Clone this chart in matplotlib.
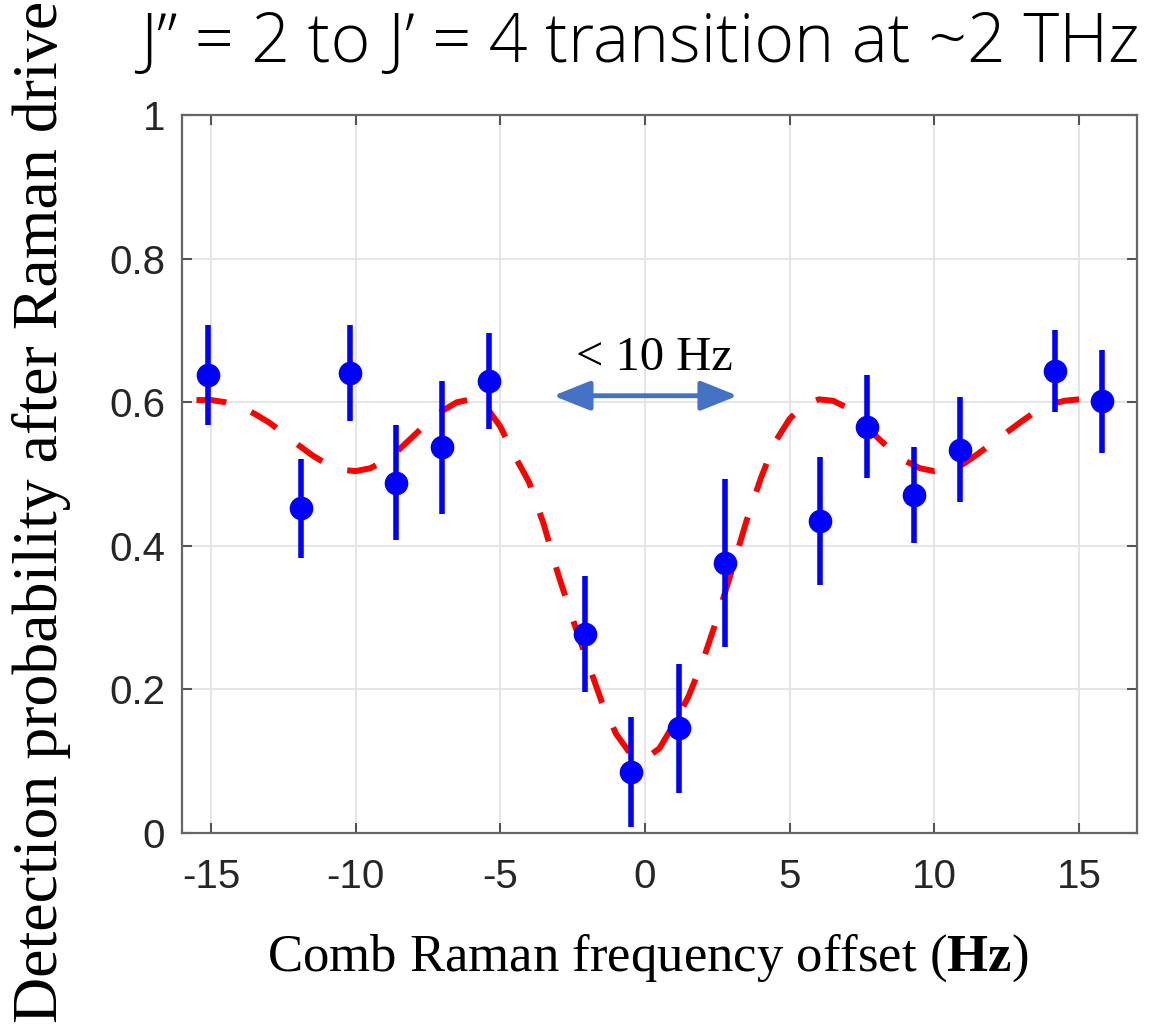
import matplotlib
matplotlib.use("Agg")
import matplotlib.pyplot as plt

# measured points (offset in Hz, detection probability, error)
freq = [-15.1, -11.9, -10.2, -8.6, -7.0, -5.4, -2.07, -0.48, 1.17, 2.76,
        6.03, 7.66, 9.28, 10.9, 14.17, 15.79]
prob = [0.638, 0.452, 0.641, 0.488, 0.537, 0.629, 0.277, 0.085, 0.146, 0.376,
        0.434, 0.566, 0.471, 0.534, 0.643, 0.601]
err = [0.070, 0.069, 0.067, 0.080, 0.093, 0.067, 0.081, 0.076, 0.090, 0.117,
       0.089, 0.072, 0.067, 0.073, 0.057, 0.072]

# fit curve, every 0.5 Hz
fit_x = [-15.5, -15.0, -14.5, -14.0, -13.5, -13.0, -12.5, -12.0, -11.5, -11.0,
         -10.5, -10.0, -9.5, -9.0, -8.5, -8.0, -7.5, -7.0, -6.5, -6.0,
         -5.5, -5.0, -4.5, -4.0, -3.5, -3.0, -2.5, -2.0, -1.5, -1.0,
         -0.5, 0.0, 0.5, 1.0, 1.5, 2.0, 2.5, 3.0, 3.5, 4.0,
         4.5, 5.0, 5.5, 6.0, 6.5, 7.0, 7.5, 8.0, 8.5, 9.0,
         9.5, 10.0, 10.5, 11.0, 11.5, 12.0, 12.5, 13.0, 13.5, 14.0,
         14.5, 15.0]
fit_y = [0.603, 0.603, 0.600, 0.594, 0.584, 0.572, 0.557, 0.541, 0.526, 0.514,
         0.506, 0.504, 0.508, 0.518, 0.534, 0.553, 0.572, 0.588, 0.600, 0.604,
         0.594, 0.566, 0.525, 0.488, 0.430, 0.360, 0.298, 0.240, 0.183, 0.138,
         0.110, 0.103, 0.118, 0.152, 0.190, 0.240, 0.300, 0.366, 0.434, 0.494,
         0.545, 0.577, 0.596, 0.604, 0.602, 0.592, 0.574, 0.552, 0.533, 0.518,
         0.508, 0.504, 0.507, 0.514, 0.528, 0.543, 0.558, 0.573, 0.587, 0.597,
         0.602, 0.604]

xticks = [-15, -10, -5, 0, 5, 10, 15]
yticks = [0, 0.2, 0.4, 0.6, 0.8, 1]
ytick_labels = ["0", "0.2", "0.4", "0.6", "0.8", "1"]

plt.rcParams['axes.unicode_minus'] = False
plt.rcParams['mathtext.fontset'] = 'custom'
plt.rcParams['mathtext.rm'] = 'Liberation Serif'
plt.rcParams['mathtext.bf'] = 'Liberation Serif:bold'

fig = plt.figure(figsize=(11.55, 10.28), dpi=100)
ax = fig.add_axes([182/1155, 1-833/1028, (1137-182)/1155, (833-115)/1028])

ax.plot(fit_x, fit_y, color="red", lw=4.3, linestyle=(0, (5, 4.5)), zorder=3)
ax.errorbar(freq, prob, yerr=err, fmt="o", color="blue", ms=16, elinewidth=4,
            capsize=0, zorder=4)

ax.set_xlim(-16, 17)
ax.set_ylim(0, 1)
ax.set_xticks(xticks)
ax.set_yticks(yticks)
ax.set_yticklabels(ytick_labels)
ax.grid(True, color="#e3e3e3", lw=1.3)
ax.set_axisbelow(True)
ax.tick_params(direction="in", length=7, width=1.5, top=True, right=True,
               labelsize=29, colors="#555555", labelcolor="#262626")
ax.tick_params(axis="x", pad=18)
ax.tick_params(axis="y", pad=12)
for s in ax.spines.values():
    s.set_color("#666666")
    s.set_linewidth(1.6)
for lab in ax.get_xticklabels() + ax.get_yticklabels():
    lab.set_family("Liberation Sans")

ax.annotate("", xy=(-3.17, 0.609), xytext=(3.2, 0.609),
            arrowprops=dict(arrowstyle="<|-|>,head_length=0.75,head_width=0.3",
                            color="#4472C4", lw=3.5, mutation_scale=30,
                            shrinkA=0, shrinkB=0))
ax.text(0.34, 0.662, "< 10 Hz", ha="center", va="center", fontsize=35,
        family="Liberation Serif")

fig.text(640/1155, 1-62/1028, "J\u201d = 2 to J\u2019 = 4 transition at ~2 THz",
         ha="center", va="baseline", fontsize=49, family="Open Sans",
         fontweight="light")
fig.text(42/1155, 1-512/1028, "Detection probability after Raman drive",
         rotation=90, ha="center", va="center", fontsize=46,
         family="Liberation Serif")
fig.text(648/1155, 1-958/1028, r"Comb Raman frequency offset ($\mathbf{Hz}$)",
         ha="center", va="center", fontsize=38, family="Liberation Serif")

plt.savefig("out.png", dpi=100)
